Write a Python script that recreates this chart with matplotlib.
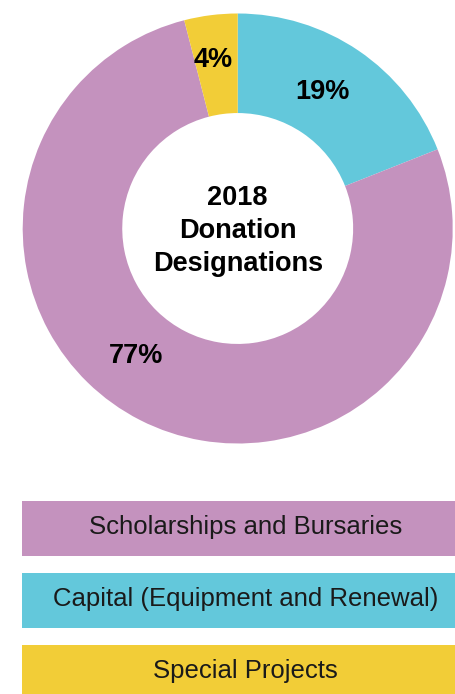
import matplotlib.pyplot as plt
from matplotlib.patches import Rectangle
import numpy as np

plt.rcParams['font.family'] = ['Liberation Sans', 'DejaVu Sans']

# slices, clockwise from 12 o'clock
slice_names = ['Capital (Equipment and Renewal)', 'Scholarships and Bursaries', 'Special Projects']
slice_values = [19, 77, 4]
slice_colors = ['#63C8DB', '#C492BE', '#F2CD37']

# legend order (top to bottom)
legend_names = ['Scholarships and Bursaries', 'Capital (Equipment and Renewal)', 'Special Projects']
legend_colors = ['#C492BE', '#63C8DB', '#F2CD37']

center_title = '2018\nDonation\nDesignations'

W, H = 455, 694
fig = plt.figure(figsize=(W / 100, H / 100), dpi=100)

# donut
cx, cy, R = 237.7, 228.5, 215
ax = fig.add_axes([(cx - R) / W, (H - cy - R) / H, 2 * R / W, 2 * R / H])
wedges, _ = ax.pie(slice_values, colors=slice_colors, startangle=90, counterclock=False,
                   radius=1, wedgeprops=dict(width=0.463, linewidth=0))
ax.set_xlim(-1, 1)
ax.set_ylim(-1, 1)
ax.set_aspect('equal')
ax.axis('off')

# percent labels placed along each wedge
label_angles = [58.3, 231.4, 98.3]
label_radii = [0.746, 0.76, 0.79]
for v, a, r in zip(slice_values, label_angles, label_radii):
    t = np.deg2rad(a)
    ax.text(r * np.cos(t), r * np.sin(t), f'{v}%', ha='center', va='center',
            fontsize=19.5, fontweight='bold', color='black')

ax.text(0, -0.012, center_title, ha='center', va='center', fontsize=19.5,
        fontweight='bold', linespacing=1.33)

# legend boxes
lax = fig.add_axes([0, 0, 1, 1])
lax.set_xlim(0, W)
lax.set_ylim(H, 0)
lax.axis('off')
box_tops = [501, 573, 645]
box_h = 55
for name, col, top in zip(legend_names, legend_colors, box_tops):
    lax.add_patch(Rectangle((22, top), W - 22, box_h, facecolor=col, edgecolor='none'))
    lax.text(245.5, top + 26, name, ha='center', va='center',
             fontsize=18.5, color='#1a1a1a')

fig.savefig('out.png', dpi=100)
